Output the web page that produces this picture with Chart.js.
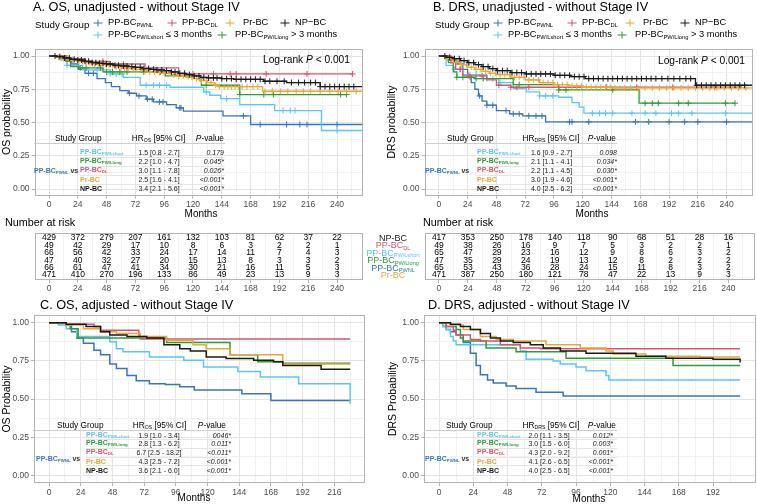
<!DOCTYPE html>
<html><head><meta charset="utf-8">
<script src="https://cdn.jsdelivr.net/npm/chart.js@4"></script>
<style>
body{margin:0;background:#fff;font-family:"Liberation Sans",Arial,sans-serif;}
#root{position:relative;width:757px;height:504px;overflow:hidden;background:#fff;}
canvas{position:absolute;}
.t{position:absolute;white-space:nowrap;line-height:1;}
.s{font-size:0.62em;position:relative;top:0.28em;}
.ln{position:absolute;height:1px;}
.key{position:absolute;width:9px;height:9px;transform:translate(-50%,-50%);}
.key:before{content:'';position:absolute;left:0;top:4px;width:9px;height:1.2px;background:currentColor;}
.key:after{content:'';position:absolute;left:4px;top:1px;width:1.2px;height:7px;background:currentColor;}
</style></head>
<body><div id="root">
<canvas id="cA"></canvas><canvas id="cB"></canvas><canvas id="rA"></canvas><canvas id="rB"></canvas><canvas id="cC"></canvas><canvas id="cD"></canvas>
</div>
<script>
// ---------- DATA ----------
const xTicksTop = [0,24,48,72,96,120,144,168,192,216,240];
const xTicksC = [0,24,48,72,96,120,144,168,192,216];
const xTicksD = [0,24,48,72,96,120,144,168,192];
const yTicks = [0,0.25,0.5,0.75,1];
const riskTimes = [0,24,48,72,96,120,144,168,192,216,240];
const riskGroups = ['NP','DL','short','long','PWNL','Pr'];
const riskA = [
 [429,372,279,207,161,132,103,81,62,37,22],
 [49,42,29,17,10,8,6,3,2,2,1],
 [66,56,42,33,24,17,14,11,7,4,3],
 [47,40,32,27,20,15,13,8,3,3,2],
 [66,61,47,41,34,30,21,16,11,5,3],
 [471,410,270,196,133,86,49,23,13,9,3]];
const riskB = [
 [417,353,250,178,140,118,90,68,51,28,16],
 [49,38,26,16,9,7,5,3,2,2,1],
 [65,47,29,23,16,12,9,8,6,3,2],
 [47,35,29,24,19,13,12,8,2,2,2],
 [65,53,43,36,28,24,15,11,8,3,2],
 [471,387,250,180,121,78,47,22,13,9,3]];
const tableGroups = ['short','long','DL','Pr','NP'];
const hrA = ['1.5 [0.8 - 2.7]','2.2 [1.0 - 4.7]','3.0 [1.1 - 7.8]','2.5 [1.6 - 4.1]','3.4 [2.1 - 5.6]'];
const pA  = ['0.179','0.045*','0.026*','<0.001*','<0.001*'];
const hrB = ['1.6 [0.9 - 2.7]','2.1 [1.1 - 4.1]','2.2 [1.1 - 4.5]','3.0 [1.9 - 4.6]','4.0 [2.5 - 6.2]'];
const pB  = ['0.098','0.034*','0.030*','<0.001*','<0.001*'];
const hrC = ['1.9 [1.0 - 3.4]','2.8 [1.3 - 6.2]','6.7 [2.5 - 18.2]','4.3 [2.5 - 7.2]','3.6 [2.1 - 6.0]'];
const pC  = ['0046*','0.011*','<0.011*','<0.001*','<0.001*'];
const hrD = ['2.0 [1.1 - 3.5]','3.0 [1.5 - 6.0]','4.3 [2.0 - 9.2]','4.1 [2.6 - 6.5]','4.0 [2.5 - 6.5]'];
const pD  = ['0.012*','0.003*','0.001*','<0.001*','<0.001*'];

// Panel A: OS unadjusted (time, survival)
const A_PWNL = [[0,1],[13,0.97],[19,0.94],[24.5,0.90],[30,0.87],[40,0.83],[47,0.80],[52,0.77],[59,0.74],[66,0.72],[73,0.70],[81,0.675],[87,0.655],[98,0.635],[106,0.61],[112,0.585],[145,0.55],[168,0.485],[262,0.485]];
const A_DL = [[0,1],[15,0.98],[30,0.96],[50,0.94],[80,0.91],[108,0.865],[253,0.865]];
const A_Pr = [[0,1],[6,0.99],[12,0.98],[18,0.97],[24,0.96],[30,0.95],[36,0.94],[42,0.935],[48,0.93],[54,0.92],[60,0.91],[66,0.905],[72,0.90],[78,0.89],[84,0.88],[90,0.875],[96,0.87],[102,0.86],[108,0.85],[114,0.84],[120,0.83],[126,0.815],[132,0.80],[138,0.78],[141,0.77],[175,0.77],[178,0.735],[262,0.735]];
const A_NP = [[0,1],[6,0.995],[12,0.985],[18,0.975],[24,0.97],[30,0.96],[36,0.95],[42,0.945],[48,0.94],[54,0.93],[60,0.925],[66,0.92],[72,0.915],[78,0.905],[84,0.90],[90,0.895],[96,0.89],[102,0.88],[108,0.87],[114,0.86],[120,0.85],[126,0.84],[132,0.835],[144,0.83],[154,0.825],[179,0.81],[198,0.80],[226,0.77],[262,0.77]];
const A_short = [[0,1],[10,0.97],[15,0.93],[28,0.895],[51,0.865],[62,0.84],[76,0.78],[101,0.765],[129,0.73],[134,0.705],[143,0.68],[159,0.635],[188,0.59],[227,0.44],[262,0.44]];
const A_long = [[0,1],[14,0.96],[18,0.92],[25,0.91],[45,0.88],[97,0.85],[123,0.83],[127,0.78],[159,0.71],[248,0.71]];
// censor times A
const A_PWNL_c = [33,37,67,75,82,86,92,95,109,110,162,176,198,209,215,240];
const A_DL_c = [45,62,120,137,151,156,181,215,253];
const A_Pr_c = [8,12,16,20,25,28,31,34,38,41,44,47,50,53,56,60,63,66,70,73,77,80,84,88,92,96,100,104,108,112,116,119,123,127,131,135,139,142,146,149,152,155,158,161,165,170,174,180,186,193,199,206,212,218,226,234,241,248,256];
const A_NP_c = [5,9,13,17,21,24,27,30,33,36,39,42,45,48,51,55,58,62,65,69,72,76,79,83,87,90,94,98,102,105,109,113,117,121,125,129,133,137,140,144,148,152,156,160,164,168,172,176,180,184,190,196,202,208,213,218,222,226,230,234,238,242,246,250,254];
const A_short_c = [15,40,51,56,61,81,87,92,98,131,148,195,201,205,240];
const A_long_c = [26,31,43,48,53,59,65,79,93,126,131,159,179,187,243,248];

// Panel B: DRS unadjusted
const B_PWNL = [[0,1],[8,0.97],[15,0.94],[20,0.90],[24,0.85],[27,0.80],[30,0.75],[33,0.70],[36,0.66],[40,0.63],[48,0.59],[59,0.565],[70,0.55],[89,0.505],[262,0.505]];
const B_DL = [[0,1],[10,0.95],[14,0.90],[20,0.85],[40,0.82],[48,0.78],[60,0.765],[253,0.765]];
const B_Pr = [[0,1],[6,0.98],[12,0.955],[18,0.935],[24,0.915],[30,0.90],[36,0.885],[42,0.87],[48,0.86],[60,0.84],[72,0.82],[84,0.80],[96,0.785],[108,0.775],[120,0.765],[144,0.76],[262,0.755]];
const B_NP = [[0,1],[6,0.99],[12,0.98],[18,0.965],[24,0.95],[30,0.935],[36,0.92],[42,0.905],[48,0.89],[60,0.875],[72,0.865],[96,0.855],[110,0.845],[122,0.83],[214,0.78],[262,0.78]];
const B_short = [[0,1],[6,0.93],[12,0.90],[20,0.86],[40,0.83],[50,0.80],[62,0.755],[73,0.73],[84,0.70],[100,0.69],[111,0.65],[117,0.615],[121,0.57],[262,0.57]];
const B_long = [[0,1],[8,0.95],[12,0.88],[15,0.84],[30,0.83],[62,0.785],[100,0.745],[167,0.645],[247,0.645]];
const B_PWNL_c = [34,40,45,56,62,67,75,81,86,109,111,125,164,175,192,205,216,240];
const B_DL_c = [18,25,36,50,60,65,75,140,165,195,230,250];
const B_Pr_c = [7,11,15,19,23,27,31,35,39,43,47,51,55,59,63,67,71,75,79,83,87,91,95,99,103,107,111,115,119,123,127,131,135,139,143,147,151,155,160,166,172,178,184,190,196,202,208,214,220,226,232,238,244,250,256];
const B_NP_c = [5,9,13,17,21,25,29,33,37,41,45,49,53,57,61,65,69,73,77,81,85,89,93,97,101,105,109,113,117,121,125,129,133,137,141,145,149,153,157,161,165,169,173,177,181,186,191,196,201,206,210,215,219,223,227,231,235,239,243,247,251,255];
const B_short_c = [13,17,26,31,40,45,51,84,89,95,128,134,139,145,161,172,181,194,200,211,239];
const B_long_c = [15,20,26,31,37,67,100,106,145,172,178,183,200,208,239,247];

// Panel C: OS adjusted
const C_PWNL = [[0,1],[13,0.985],[17,0.94],[21,0.90],[26,0.865],[34,0.82],[39,0.79],[46,0.73],[51,0.70],[59,0.655],[66,0.62],[76,0.60],[88,0.595],[99,0.58],[110,0.56],[146,0.535],[168,0.49],[228,0.49]];
const C_DL = [[0,1],[13,0.99],[34,0.975],[39,0.95],[68,0.92],[69,0.893],[228,0.893]];
const C_Pr = [[0,1],[13,0.985],[26,0.96],[39,0.94],[51,0.93],[69,0.91],[89,0.885],[109,0.855],[119,0.83],[137,0.79],[177,0.73],[228,0.73]];
const C_NP = [[0,1],[13,0.99],[28,0.975],[39,0.94],[46,0.92],[59,0.91],[74,0.90],[87,0.855],[99,0.83],[107,0.815],[119,0.775],[134,0.765],[155,0.755],[170,0.745],[177,0.72],[206,0.695],[228,0.695]];
const C_short = [[0,1],[7,0.985],[13,0.96],[21,0.91],[46,0.875],[51,0.83],[56,0.81],[76,0.775],[102,0.755],[117,0.71],[143,0.68],[160,0.645],[189,0.60],[228,0.47]];
const C_long = [[0,1],[13,0.985],[16,0.96],[22,0.90],[89,0.87],[137,0.79],[158,0.745],[177,0.735],[228,0.735]];

// Panel D: DRS adjusted
const D_PWNL = [[0,1],[3,0.975],[5,0.955],[8,0.94],[12,0.92],[17,0.87],[22,0.80],[26,0.72],[29,0.66],[34,0.625],[38,0.605],[47,0.585],[54,0.57],[68,0.545],[87,0.52],[211,0.52]];
const D_DL = [[0,1],[5,0.975],[10,0.95],[12,0.92],[22,0.89],[29,0.88],[43,0.855],[57,0.835],[71,0.83],[211,0.83]];
const D_Pr = [[0,1],[8,0.985],[17,0.955],[29,0.91],[40,0.89],[52,0.88],[75,0.855],[99,0.835],[117,0.815],[122,0.795],[145,0.78],[183,0.775],[211,0.775]];
const D_NP = [[0,1],[8,0.99],[15,0.975],[22,0.955],[29,0.93],[36,0.90],[43,0.88],[52,0.87],[64,0.855],[73,0.835],[85,0.815],[103,0.80],[138,0.78],[159,0.767],[192,0.76],[211,0.74]];
const D_short = [[0,1],[3,0.975],[5,0.955],[8,0.91],[10,0.88],[12,0.855],[57,0.815],[61,0.76],[80,0.75],[85,0.73],[96,0.71],[103,0.685],[117,0.655],[119,0.625],[211,0.625]];
const D_long = [[0,1],[5,0.975],[12,0.955],[15,0.90],[17,0.88],[33,0.835],[54,0.81],[89,0.767],[164,0.72],[211,0.72]];

// ---------- STYLE ----------
const FONT = '"Liberation Sans", Arial, sans-serif';
const COL = {PWNL:'#3A75B7', DL:'#D0596E', Pr:'#EAA735', NP:'#1A1A1A', short:'#5CC6F2', long:'#2F9A3B'};
const NAME = {
 PWNL:'PP-BC<span class="s">PWNL</span>', DL:'PP-BC<span class="s">DL</span>', Pr:'Pr-BC', NP:'NP-BC',
 short:'PP-BC<span class="s">PW/Lshort</span>', long:'PP-BC<span class="s">PW/Llong</span>'};
const root = document.getElementById('root');

function T(x,y,html,o={}){
  const d=document.createElement('div'); d.className='t'; d.innerHTML=html;
  d.style.left=x+'px'; d.style.top=y+'px';
  d.style.fontSize=(o.size||9)+'px'; d.style.color=o.color||'#000';
  if(o.weight) d.style.fontWeight=o.weight; if(o.style) d.style.fontStyle=o.style;
  const ax = o.align==='center'?-50:(o.align==='right'?-100:0);
  d.style.transform=`translate(${ax}%,-50%)`+(o.rot?` rotate(${o.rot}deg)`:'');
  root.appendChild(d); return d;
}
function L(x0,x1,y,color){ const d=document.createElement('div'); d.className='ln';
  d.style.left=x0+'px'; d.style.width=(x1-x0)+'px'; d.style.top=y+'px'; d.style.background=color; root.appendChild(d);}
function K(x,y,color){ const d=document.createElement('div'); d.className='key'; d.style.left=x+'px'; d.style.top=y+'px'; d.style.color=color; root.appendChild(d);}

function stepAt(curve,t){ let v=curve[0][1]; for(const [x,y] of curve){ if(x<=t) v=y; else break;} return v; }
function minorsOf(maj){ const m=[]; for(let i=0;i<maj.length-1;i++) m.push((maj[i]+maj[i+1])/2); m.push(maj[maj.length-1]+(maj[1]-maj[0])/2); return m; }

const frame = {id:'frame', afterDatasetsDraw(ch){ const a=ch.chartArea,c=ch.ctx; c.save(); c.strokeStyle='#B3B3B3'; c.lineWidth=1;
  c.strokeRect(Math.round(a.left)+0.5,Math.round(a.top)+0.5,Math.round(a.right)-Math.round(a.left)-1,Math.round(a.bottom)-Math.round(a.top)-1); c.restore(); }};

function xAxis(xr,maj,hgt){
  const all=maj.concat(minorsOf(maj)).filter(v=>v<=xr[1]).sort((a,b)=>a-b);
  const isM=c=>c&&c.tick&&maj.includes(c.tick.value);
  return {type:'linear',min:xr[0],max:xr[1],
    afterBuildTicks:s=>{s.ticks=all.map(v=>({value:v}));},
    afterFit:s=>{s.height=hgt;},
    ticks:{autoSkip:false,maxRotation:0,minRotation:0,padding:1,color:'#4D4D4D',font:{family:FONT,size:8.5},callback:v=>maj.includes(v)?String(v):''},
    grid:{color:c=>isM(c)?'#E4E4E4':'#F2F2F2',lineWidth:1,tickLength:3,tickColor:c=>isM(c)?'#B3B3B3':'rgba(0,0,0,0)'},
    border:{display:false}};
}
function yAxis(wid){
  const all=yTicks.concat(minorsOf(yTicks).slice(0,4)).sort((a,b)=>a-b);
  const isM=c=>c&&c.tick&&yTicks.includes(c.tick.value);
  return {type:'linear',min:-0.05,max:1.05,
    afterBuildTicks:s=>{s.ticks=all.map(v=>({value:v}));},
    afterFit:s=>{s.width=wid;},
    ticks:{autoSkip:false,padding:2,color:'#4D4D4D',font:{family:FONT,size:8.5},callback:v=>yTicks.includes(v)?v.toFixed(2):''},
    grid:{color:c=>isM(c)?'#E4E4E4':'#F2F2F2',lineWidth:1,tickLength:3,tickColor:c=>isM(c)?'#B3B3B3':'rgba(0,0,0,0)'},
    border:{display:false}};
}
function place(id,box){ const c=document.getElementById(id); c.width=box.w; c.height=box.h; c.style.left=box.x+'px'; c.style.top=box.y+'px'; return c; }

function kmChart(id,box,area,xr,maj,curves,censors,lw){
  const c=place(id,box);
  const ds=[];
  const order=['NP','Pr','DL','long','short','PWNL'];
  order.forEach(g=>{
    if(censors) ds.push({data:censors[g].map(t=>({x:t,y:stepAt(curves[g],t)})),showLine:false,pointStyle:'cross',pointRadius:3,pointHoverRadius:3,borderWidth:1,borderColor:COL[g],backgroundColor:COL[g]});
    ds.push({data:curves[g].map(([x,y])=>({x,y})),showLine:true,stepped:true,borderColor:COL[g],borderWidth:lw,pointRadius:0,fill:false});
  });
  return new Chart(c,{type:'scatter',data:{datasets:ds},
    options:{responsive:false,animation:false,devicePixelRatio:1,
      layout:{padding:{left:0,top:area.t-box.y,right:box.x+box.w-area.r,bottom:0}},
      plugins:{legend:{display:false},tooltip:{enabled:false}},
      scales:{x:xAxis(xr,maj,box.y+box.h-area.b),y:yAxis(area.l-box.x)}},
    plugins:[frame]});
}
function riskChart(id,box,area,rows){
  const c=place(id,box);
  const rp={id:'risk',afterDatasetsDraw(ch){const g=ch.ctx,xs=ch.scales.x,ys=ch.scales.y; g.save(); g.font='8.5px '+FONT; g.fillStyle='#000'; g.textAlign='center'; g.textBaseline='middle';
    rows.forEach((r,i)=>r.forEach((n,j)=>g.fillText(String(n),xs.getPixelForValue(riskTimes[j]),ys.getPixelForValue(i+1)))); g.restore();}};
  return new Chart(c,{type:'scatter',data:{datasets:[{data:[]}]},
    options:{responsive:false,animation:false,devicePixelRatio:1,
      layout:{padding:{left:area.l-box.x,top:area.t-box.y,right:box.x+box.w-area.r,bottom:0}},
      plugins:{legend:{display:false},tooltip:{enabled:false}},
      scales:{x:xAxis([-12,262],xTicksTop,box.y+box.h-area.b),
              y:{type:'linear',display:false,reverse:true,min:0.324,max:6.676}}},
    plugins:[frame,rp]});
}

// ---------- CHARTS ----------
kmChart('cA',{x:0,y:0,w:380,h:225},{l:34.6,t:49.35,r:363.4,b:195.65},[-12,262],xTicksTop,
  {PWNL:A_PWNL,DL:A_DL,Pr:A_Pr,NP:A_NP,short:A_short,long:A_long},
  {PWNL:A_PWNL_c,DL:A_DL_c,Pr:A_Pr_c,NP:A_NP_c,short:A_short_c,long:A_long_c},1.3);
kmChart('cB',{x:380,y:0,w:377,h:225},{l:424.5,t:49.35,r:755,b:195.65},[-12,262],xTicksTop,
  {PWNL:B_PWNL,DL:B_DL,Pr:B_Pr,NP:B_NP,short:B_short,long:B_long},
  {PWNL:B_PWNL_c,DL:B_DL_c,Pr:B_Pr_c,NP:B_NP_c,short:B_short_c,long:B_long_c},1.3);
riskChart('rA',{x:0,y:225,w:380,h:72},{l:34.6,t:233,r:363.4,b:280},riskA);
riskChart('rB',{x:380,y:225,w:377,h:72},{l:424.5,t:233,r:755,b:280},riskB);
kmChart('cC',{x:0,y:300,w:380,h:204},{l:34,t:315.06,r:365.2,b:483.1},[-11.4,239.4],xTicksC,
  {PWNL:C_PWNL,DL:C_DL,Pr:C_Pr,NP:C_NP,short:C_short,long:C_long},null,1.5);
kmChart('cD',{x:380,y:300,w:377,h:204},{l:423.9,t:315.06,r:756.1,b:483.1},[-10.6,222.2],xTicksD,
  {PWNL:D_PWNL,DL:D_DL,Pr:D_Pr,NP:D_NP,short:D_short,long:D_long},null,1.5);

// ---------- TEXT ----------
T(33,7,'A. OS, unadjusted - without Stage IV',{size:12.7});
T(433,7,'B. DRS, unadjusted - without Stage IV',{size:12.7});
T(40,305,'C. OS, adjusted - without Stage IV',{size:12.7});
T(428,305,'D. DRS, adjusted - without Stage IV',{size:12.7});

function legend(dx){
  T(35+dx,25,'Study Group',{size:9.7});
  const r1=[['PWNL',98,108],['DL',172,182],['Pr',230,243],['NP',285,295]];
  r1.forEach(([g,kx,tx])=>{K(kx+dx,23,COL[g]); T(tx+dx,23,g==='NP'?'NP\u2212BC':NAME[g],{size:9.3});});
  K(98+dx,35,COL.short); T(108+dx,35,NAME.short+' \u2264 3 months',{size:9.3});
  K(222+dx,35,COL.long); T(235+dx,35,NAME.long+' &gt; 3 months',{size:9.3});
}
legend(0); legend(400);

T(263,60,'Log-rank <i>P</i> &lt; 0.001',{size:10.2});
T(658,61,'Log-rank <i>P</i> &lt; 0.001',{size:10.2});

T(6,122,'OS probability',{size:10.5,align:'center',rot:-90});
T(391,122,'DRS probability',{size:10.5,align:'center',rot:-90});
T(6,399,'OS Probability',{size:10.5,align:'center',rot:-90});
T(392,399,'DRS Probability',{size:10.5,align:'center',rot:-90});

T(201,214,'Months',{size:10,align:'center'});
T(592,214,'Months',{size:10,align:'center'});
T(194,498,'Months',{size:10,align:'center'});
T(589,499,'Months',{size:10,align:'center'});

T(5,222,'Number at risk',{size:10.8});
T(423,222,'Number at risk',{size:10.8});
riskGroups.forEach((g,i)=>T(393,238+i*7.4,NAME[g],{size:9,color:COL[g],align:'center'}));

function hrTable(c,hrSub,hrs,ps){
  T(c.sgX,c.hdrY,'Study Group',{size:8.3});
  T(c.hdrHRC,c.hdrY,'HR<span class="s">'+hrSub+'</span> [95% CI]',{size:8.3,align:'center'});
  T(c.hdrPR,c.hdrY,'<i>P</i>-value',{size:8.3,align:'right'});
  L(c.lx0,c.lx1,c.lineY,'#CFCFCF');
  for(let i=0;i<4;i++) L(c.nameX,c.lx1,(c.rowsY[i]+c.rowsY[i+1])/2,'#E6E6E6');
  tableGroups.forEach((g,i)=>{
    T(c.nameX,c.rowsY[i],NAME[g],{size:7,color:COL[g],weight:'bold'});
    T(c.hrC,c.rowsY[i],hrs[i],{size:7,align:'center',color:'#222'});
    T(c.pR,c.rowsY[i],ps[i],{size:7,align:'right',style:'italic',color:'#222'});
  });
  T(c.vsX,c.vsY,'<span style="color:'+COL.PWNL+'">'+NAME.PWNL+'</span> vs',{size:7,weight:'bold',color:'#333'});
}
hrTable({sgX:55,hdrY:138,hdrHRC:158.5,hdrPR:224,lineY:143,lx0:34,lx1:225,rowsY:[152,161,170,179,188.3],nameX:80,hrC:159,pR:224,vsX:34,vsY:171},'OS',hrA,pA);
hrTable({sgX:447,hdrY:138,hdrHRC:551,hdrPR:616,lineY:143,lx0:424,lx1:617,rowsY:[152,161,170,179,188.3],nameX:477,hrC:551.5,pR:617,vsX:425,vsY:171},'DRS',hrB,pB);
hrTable({sgX:57,hdrY:425,hdrHRC:159.5,hdrPR:226,lineY:430,lx0:33,lx1:227,rowsY:[434.5,443,452,461,469.5],nameX:86,hrC:159,pR:231,vsX:36,vsY:458.5},'OS',hrC,pC);
hrTable({sgX:446,hdrY:425,hdrHRC:551,hdrPR:616,lineY:430,lx0:424,lx1:617,rowsY:[434.5,443,452,461,469.5],nameX:477,hrC:549,pR:613,vsX:425,vsY:458.5},'DRS',hrD,pD);
</script>
</body></html>
